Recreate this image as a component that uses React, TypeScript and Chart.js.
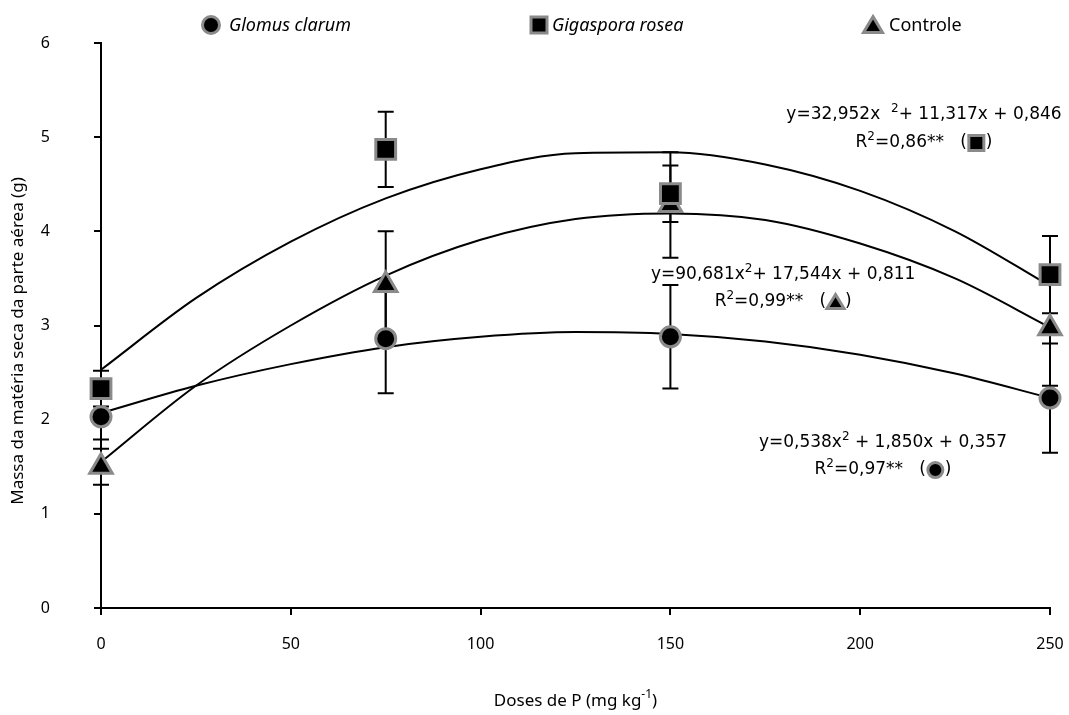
import React, { useEffect, useRef } from 'react';
import { Chart, registerables } from 'chart.js';

Chart.register(...registerables);

// Observed means (doses of P, mg kg-1)
const doses = [0, 75, 150, 250];
const glomusClarum = [2.03, 2.86, 2.88, 2.23];
const gigasporaRosea = [2.33, 4.87, 4.40, 3.54];
const controle = [1.5, 3.43, 4.28, 2.97];

// Error bar half-lengths
const glomusErr = [0.24, 0.58, 0.55, 0.58];
const gigasporaErr = [0.19, 0.4, 0.3, 0.41];
const controleErr = [0.19, 0.57, 0.56, 0.61];

// Fitted curves
const fitDoses = [0, 25, 50, 75, 100, 125, 150, 175, 200, 225, 250];
const fitGlomus = [2.07, 2.36, 2.59, 2.77, 2.88, 2.93, 2.91, 2.83, 2.69, 2.49, 2.23];
const fitGigaspora = [2.53, 3.29, 3.89, 4.35, 4.66, 4.83, 4.84, 4.71, 4.43, 4.0, 3.42];
const fitControle = [1.55, 2.36, 3.0, 3.53, 3.91, 4.13, 4.19, 4.12, 3.87, 3.5, 2.98];

const xTicks = [0, 50, 100, 150, 200, 250];
const yTicks = [0, 1, 2, 3, 4, 5, 6];

const legendLabels = ['Glomus clarum', 'Gigaspora rosea', 'Controle'];
const yTitle = 'Massa da matéria seca da parte aérea (g)';

const FONT = '"Noto Sans", "Open Sans", sans-serif';
const ANN_FONT = '"DejaVu Sans", "Noto Sans", sans-serif';
const MARKER_BORDER = '#8a8a8a';

type Seg = { t?: string; sup?: boolean; marker?: string };

function drawMarker(ctx: CanvasRenderingContext2D, style: string, x: number, y: number, size: number) {
  ctx.save();
  ctx.fillStyle = '#000';
  ctx.strokeStyle = MARKER_BORDER;
  ctx.lineWidth = 3;
  ctx.beginPath();
  if (style === 'circle') {
    ctx.arc(x, y, size / 2, 0, Math.PI * 2);
  } else if (style === 'rect') {
    ctx.rect(x - size / 2, y - size / 2, size, size);
  } else {
    const h = size * 0.87;
    ctx.moveTo(x, y - h / 2 - 1);
    ctx.lineTo(x + size / 2 + 1, y + h / 2);
    ctx.lineTo(x - size / 2 - 1, y + h / 2);
    ctx.closePath();
  }
  ctx.fill();
  ctx.stroke();
  ctx.restore();
}

function drawRich(
  ctx: CanvasRenderingContext2D,
  segs: Seg[],
  cx: number,
  cy: number,
  size: number,
  family: string = FONT
) {
  const base = `${size}px ${family}`;
  const supF = `${Math.round(size * 0.68)}px ${family}`;
  const mSize = 15;
  const widths = segs.map((s) => {
    if (s.marker) return mSize + 4;
    ctx.font = s.sup ? supF : base;
    return ctx.measureText(s.t || '').width;
  });
  const total = widths.reduce((a, b) => a + b, 0);
  let x = cx - total / 2;
  ctx.save();
  ctx.fillStyle = '#000';
  ctx.textBaseline = 'middle';
  ctx.textAlign = 'left';
  segs.forEach((s, i) => {
    if (s.marker) {
      drawMarker(ctx, s.marker, x + widths[i] / 2, cy, mSize);
    } else {
      ctx.font = s.sup ? supF : base;
      ctx.fillText(s.t || '', x, s.sup ? cy - size * 0.36 : cy);
    }
    x += widths[i];
  });
  ctx.restore();
}

const annotations: { x: number; y: number; segs: Seg[] }[] = [
  { x: 216.8, y: 5.235, segs: [{ t: 'y=32,952x  ' }, { t: '2', sup: true }, { t: '+ 11,317x + 0,846' }] },
  { x: 216.8, y: 4.938, segs: [{ t: 'R' }, { t: '2', sup: true }, { t: '=0,86**   (' }, { marker: 'rect' }, { t: ')' }] },
  { x: 179.7, y: 3.536, segs: [{ t: 'y=90,681x' }, { t: '2', sup: true }, { t: '+ 17,544x + 0,811' }] },
  { x: 179.7, y: 3.249, segs: [{ t: 'R' }, { t: '2', sup: true }, { t: '=0,99**   (' }, { marker: 'triangle' }, { t: ')' }] },
  { x: 206.0, y: 1.752, segs: [{ t: 'y=0,538x' }, { t: '2', sup: true }, { t: ' + 1,850x + 0,357' }] },
  { x: 206.0, y: 1.465, segs: [{ t: 'R' }, { t: '2', sup: true }, { t: '=0,97**   (' }, { marker: 'circle' }, { t: ')' }] },
];

const errorBarPlugin = {
  id: 'errorBars',
  beforeDatasetsDraw(chart: any) {
    const ctx = chart.ctx as CanvasRenderingContext2D;
    const xs = chart.scales.x;
    const ys = chart.scales.y;
    const groups: [number[], number[]][] = [
      [glomusClarum, glomusErr],
      [gigasporaRosea, gigasporaErr],
      [controle, controleErr],
    ];
    ctx.save();
    ctx.strokeStyle = '#000';
    ctx.lineWidth = 2;
    groups.forEach(([vals, errs]) => {
      vals.forEach((v, i) => {
        const x = xs.getPixelForValue(doses[i]);
        const yT = ys.getPixelForValue(v + errs[i]);
        const yB = ys.getPixelForValue(v - errs[i]);
        ctx.beginPath();
        ctx.moveTo(x, yT);
        ctx.lineTo(x, yB);
        ctx.moveTo(x - 8, yT);
        ctx.lineTo(x + 8, yT);
        ctx.moveTo(x - 8, yB);
        ctx.lineTo(x + 8, yB);
        ctx.stroke();
      });
    });
    ctx.restore();
  },
};

const decorPlugin = {
  id: 'decor',
  afterDraw(chart: any) {
    const ctx = chart.ctx as CanvasRenderingContext2D;
    const xs = chart.scales.x;
    const ys = chart.scales.y;
    const area = chart.chartArea;

    // Annotations
    annotations.forEach((a) => {
      drawRich(ctx, a.segs, xs.getPixelForValue(a.x), ys.getPixelForValue(a.y), 17, ANN_FONT);
    });

    // Legend
    ctx.save();
    ctx.fillStyle = '#000';
    ctx.textBaseline = 'middle';
    ctx.textAlign = 'left';
    const legendY = 25;
    const items = [
      { m: 'circle', mx: 211, tx: 229, italic: true, size: 17 },
      { m: 'rect', mx: 539, tx: 552, italic: true, size: 16 },
      { m: 'triangle', mx: 873, tx: 889, italic: false, size: 17 },
    ];
    items.forEach((it, i) => {
      drawMarker(ctx, it.m, it.mx, legendY, it.size);
      ctx.font = `${it.italic ? 'italic ' : ''}18px ${FONT}`;
      ctx.fillText(legendLabels[i], it.tx, legendY + 1);
    });

    // Axis titles
    ctx.font = `17px ${FONT}`;
    ctx.textAlign = 'center';
    ctx.save();
    ctx.translate(18, 341);
    ctx.rotate(-Math.PI / 2);
    ctx.fillText(yTitle, 0, 0);
    ctx.restore();

    const cx = (area.left + area.right) / 2;
    drawRich(ctx, [{ t: 'Doses de P (mg kg' }, { t: '-1', sup: true }, { t: ')' }], cx, 701, 17);
    ctx.restore();
  },
};

export default function App() {
  const ref = useRef<HTMLCanvasElement | null>(null);

  useEffect(() => {
    if (!ref.current) return;
    const pts = (xs: number[], ys: number[]) => xs.map((x, i) => ({ x, y: ys[i] }));
    const markerBase = {
      showLine: false,
      backgroundColor: '#000',
      borderColor: MARKER_BORDER,
      borderWidth: 3,
      clip: false as any,
    };
    const curveBase = {
      showLine: true,
      borderColor: '#000',
      borderWidth: 2,
      pointRadius: 0,
      cubicInterpolationMode: 'monotone' as const,
      fill: false,
      clip: false as any,
    };
    const chart = new Chart(ref.current, {
      type: 'scatter',
      data: {
        datasets: [
          { ...markerBase, label: 'Glomus clarum', data: pts(doses, glomusClarum), pointStyle: 'circle', pointRadius: 10, order: 0 },
          { ...markerBase, label: 'Gigaspora rosea', data: pts(doses, gigasporaRosea), pointStyle: 'rect', pointRadius: 14, order: 0 },
          { ...markerBase, label: 'Controle', data: pts(doses, controle), pointStyle: 'triangle', pointRadius: 13, order: 0 },
          { ...curveBase, label: 'fit G', data: pts(fitDoses, fitGlomus), order: 5 },
          { ...curveBase, label: 'fit R', data: pts(fitDoses, fitGigaspora), order: 5 },
          { ...curveBase, label: 'fit C', data: pts(fitDoses, fitControle), order: 5 },
        ] as any,
      },
      options: {
        responsive: false,
        animation: false,
        events: [],
        layout: { autoPadding: false, padding: { left: 0, right: 19, top: 43, bottom: 0 } },
        plugins: { legend: { display: false }, tooltip: { enabled: false } },
        scales: {
          x: {
            type: 'linear',
            min: 0,
            max: 250,
            afterBuildTicks: (s: any) => {
              s.ticks = xTicks.map((v) => ({ value: v }));
            },
            afterFit: (s: any) => {
              s.height = 107;
              s.paddingLeft = 0;
              s.paddingRight = 14;
            },
            grid: { display: true, drawOnChartArea: false, drawTicks: true, tickLength: 7, color: '#000', lineWidth: 2 },
            border: { display: true, color: '#000', width: 2 },
            ticks: { color: '#000', font: { family: FONT, size: 16 }, padding: 20, maxRotation: 0, autoSkip: false },
          },
          y: {
            type: 'linear',
            min: 0,
            max: 6,
            afterBuildTicks: (s: any) => {
              s.ticks = yTicks.map((v) => ({ value: v }));
            },
            afterFit: (s: any) => {
              s.width = 101;
              s.paddingTop = 10;
              s.paddingBottom = 0;
            },
            grid: { display: true, drawOnChartArea: false, drawTicks: true, tickLength: 7, color: '#000', lineWidth: 2 },
            border: { display: true, color: '#000', width: 2 },
            ticks: { color: '#000', font: { family: FONT, size: 16 }, padding: 44, autoSkip: false },
          },
        },
      } as any,
      plugins: [errorBarPlugin, decorPlugin],
    });
    return () => chart.destroy();
  }, []);

  return (
    <canvas
      ref={ref}
      width={1069}
      height={715}
      style={{ position: 'fixed', left: 0, top: 0, display: 'block', background: '#fff' }}
    />
  );
}
